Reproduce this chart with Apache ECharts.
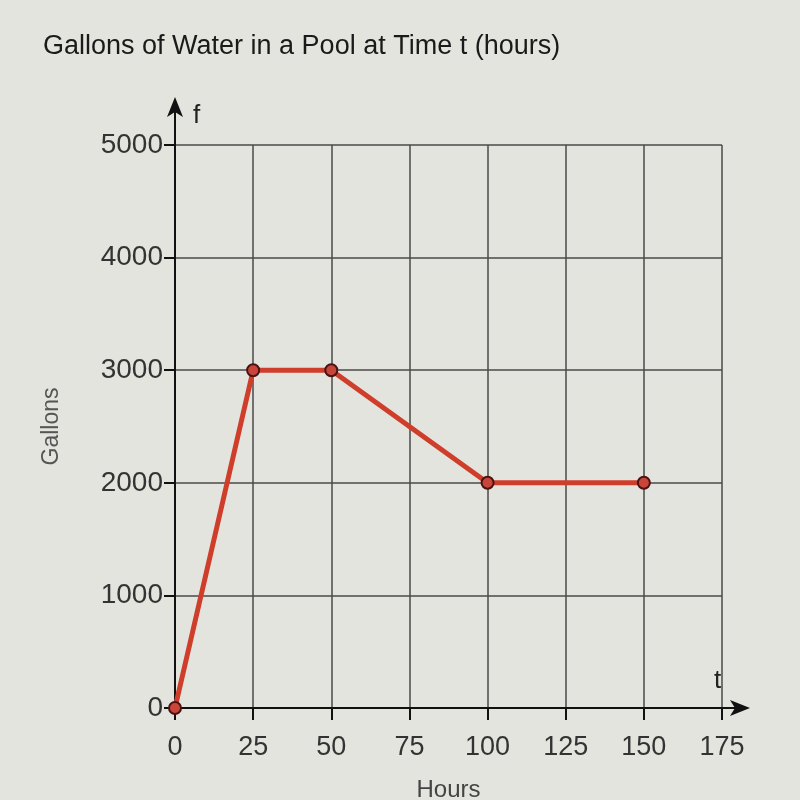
<!DOCTYPE html>
<html>
<head>
<meta charset="utf-8">
<script src="https://cdn.jsdelivr.net/npm/echarts@6/dist/echarts.min.js"></script>
<style>
html,body{margin:0;padding:0;background:#e3e4de;}
#c{width:800px;height:800px;}
</style>
</head>
<body>
<div id="c"></div>
<script>
const titleText = 'Gallons of Water in a Pool at Time t (hours)';
const hours = [0, 25, 50, 100, 150];
const gallons = [0, 3000, 3000, 2000, 2000];
const xMin = 0, xMax = 175, xStep = 25;
const yMin = 0, yMax = 5000, yStep = 1000;

const chart = echarts.init(document.getElementById('c'));
const font = 'Liberation Sans, Arial, sans-serif';
chart.setOption({
  backgroundColor: '#e3e4de',
  animation: false,
  title: {
    text: titleText, left: 38, top: 28,
    textStyle: {fontFamily: font, fontSize: 27, fontWeight: 'normal', color: '#1a1a1a'}
  },
  grid: {left: 175, right: 78, top: 145, bottom: 92, outerBoundsMode: 'none', containLabel: false},
  xAxis: {
    type: 'value', min: xMin, max: xMax, interval: xStep,
    name: 'Hours', nameLocation: 'middle', nameGap: 70,
    nameTextStyle: {fontFamily: font, fontSize: 24, color: '#444'},
    axisLine: {show: true, onZero: false, lineStyle: {color: '#111', width: 2}},
    axisTick: {show: true, length: 12, lineStyle: {color: '#111', width: 2}},
    axisLabel: {fontFamily: font, fontSize: 27, color: '#333', margin: 26,
      formatter: v => String(v)},
    splitLine: {show: true, lineStyle: {color: '#4a4a4a', width: 1.5}}
  },
  yAxis: {
    type: 'value', min: yMin, max: yMax, interval: yStep,
    name: 'Gallons', nameLocation: 'middle', nameGap: 112, nameRotate: 90,
    nameTextStyle: {fontFamily: font, fontSize: 23, color: '#555'},
    axisLine: {show: true, onZero: false, lineStyle: {color: '#111', width: 2}},
    axisTick: {show: true, length: 11, lineStyle: {color: '#111', width: 2}},
    axisLabel: {fontFamily: font, fontSize: 28, color: '#333', margin: 12,
      formatter: v => String(v)},
    splitLine: {show: true, lineStyle: {color: '#4a4a4a', width: 1.5}}
  },
  series: [{
    type: 'line',
    data: hours.map((h, i) => [h, gallons[i]]),
    lineStyle: {color: '#cf3e2b', width: 5},
    symbol: 'circle', symbolSize: 12,
    itemStyle: {color: '#c8453a', borderColor: '#4a1212', borderWidth: 2},
    z: 5
  }]
});

const o = chart.convertToPixel({gridIndex: 0}, [xMax, yMin]);
const t = chart.convertToPixel({gridIndex: 0}, [xMin, yMax]);
const ext = 28, ah = 20, aw = 8;
chart.setOption({
  graphic: [
    {type: 'line', shape: {x1: o[0], y1: o[1], x2: o[0] + ext - 6, y2: o[1]}, style: {stroke: '#111', lineWidth: 2}},
    {type: 'polygon', shape: {points: [[o[0] + ext, o[1]], [o[0] + ext - ah, o[1] - aw], [o[0] + ext - ah + 5, o[1]], [o[0] + ext - ah, o[1] + aw]]}, style: {fill: '#111'}},
    {type: 'line', shape: {x1: t[0], y1: t[1], x2: t[0], y2: t[1] - ext - 14}, style: {stroke: '#111', lineWidth: 2}},
    {type: 'polygon', shape: {points: [[t[0], t[1] - ext - 20], [t[0] - aw, t[1] - ext - 20 + ah], [t[0], t[1] - ext - 20 + ah - 5], [t[0] + aw, t[1] - ext - 20 + ah]]}, style: {fill: '#111'}},
    {type: 'text', x: o[0] - 8, y: o[1] - 40, style: {text: 't', fontFamily: font, fontSize: 26, fill: '#222'}},
    {type: 'text', x: t[0] + 18, y: t[1] - 42, style: {text: 'f', fontFamily: font, fontSize: 26, fill: '#222'}}
  ]
});
</script>
</body>
</html>
